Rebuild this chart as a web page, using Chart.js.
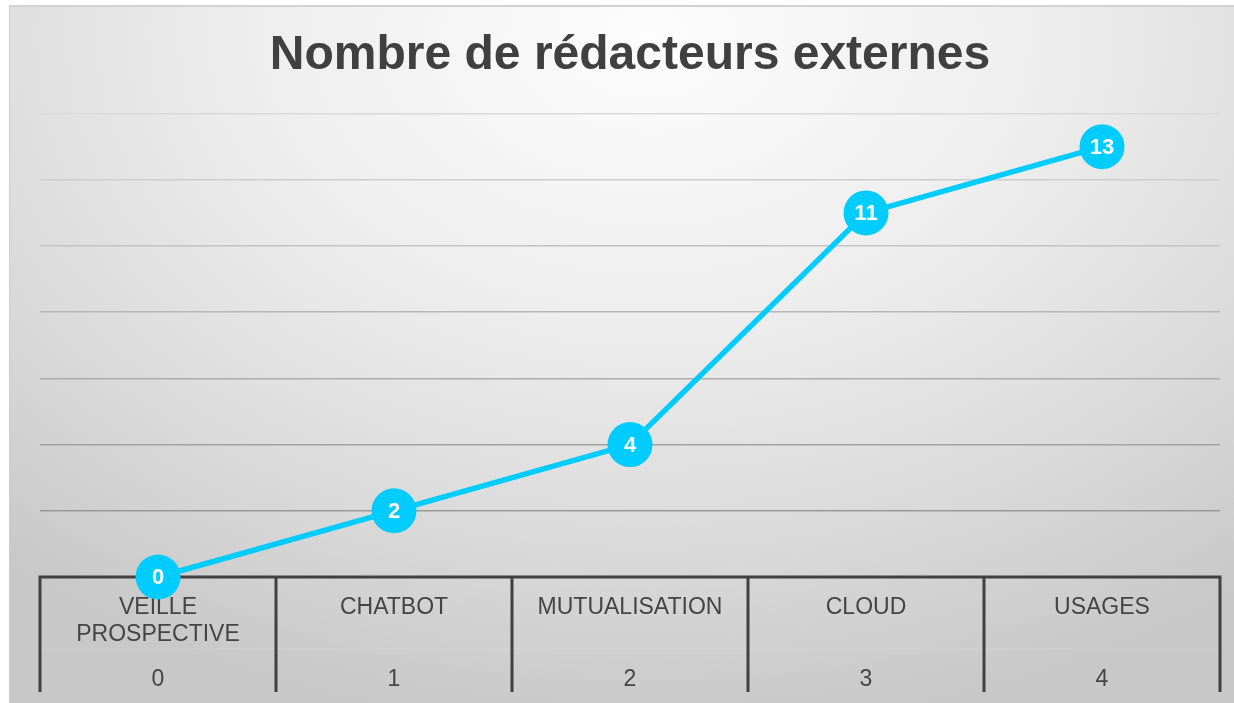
<!DOCTYPE html>
<html>
<head>
<meta charset="utf-8">
<script src="https://cdn.jsdelivr.net/npm/chart.js@4.4.0/dist/chart.umd.min.js"></script>
<style>
  html, body { margin: 0; padding: 0; background: #fff; overflow: hidden; }
  #frame {
    position: absolute; left: 9px; top: 5px; width: 1225px; height: 698px;
    border-top: 2px solid #d2d2d2; border-left: 1px solid #cdcdcd;
    box-sizing: border-box;
    background: radial-gradient(ellipse 80% 100% at 52% 4%, #fdfdfd 0%, #eeeeee 40%, #d9d9d9 75%, #c8c8c8 100%);
  }
  #wrap { position: absolute; left: 0; top: 0; width: 1234px; height: 703px; }
</style>
</head>
<body>
<div id="frame"></div>
<div id="wrap"><canvas id="c"></canvas></div>
<script>
// chart data
const categories = [["VEILLE", "PROSPECTIVE"], ["CHATBOT"], ["MUTUALISATION"], ["CLOUD"], ["USAGES"]];
const indexLabels = ["0", "1", "2", "3", "4"];
const redacteurs = [0, 2, 4, 11, 13];
const yMin = 0, yMax = 14, yStep = 2;

const FONT = "'Liberation Sans', Arial, sans-serif";

// table under the plot: category names, index row, borders
const tablePlugin = {
  id: "tableAxis",
  beforeDatasetsDraw(chart) {
    const ctx = chart.ctx;
    const x = chart.scales.x;
    const area = chart.chartArea;
    const top = area.bottom;
    const bottom = top + 115;
    ctx.save();
    // faint separation between the two rows
    ctx.strokeStyle = "rgba(255,255,255,0.2)";
    ctx.lineWidth = 1;
    ctx.beginPath();
    ctx.moveTo(x.getPixelForValue(-0.5), top + 72);
    ctx.lineTo(x.getPixelForValue(categories.length - 0.5), top + 72);
    ctx.stroke();

    ctx.strokeStyle = "#404040";
    ctx.lineWidth = 3;
    ctx.beginPath();
    ctx.moveTo(x.getPixelForValue(-0.5) - 1.5, top);
    ctx.lineTo(x.getPixelForValue(categories.length - 0.5) + 1.5, top);
    for (let i = 0; i <= categories.length; i++) {
      const px = x.getPixelForValue(i - 0.5);
      ctx.moveTo(px, top);
      ctx.lineTo(px, bottom);
    }
    ctx.stroke();

    ctx.fillStyle = "#444444";
    ctx.font = "23px " + FONT;
    ctx.textAlign = "center";
    ctx.textBaseline = "middle";
    for (let i = 0; i < categories.length; i++) {
      const px = x.getPixelForValue(i);
      categories[i].forEach((line, j) => {
        ctx.fillText(line, px, top + 31 + j * 27);
      });
      ctx.fillText(indexLabels[i], px, top + 103);
    }
    ctx.restore();
  }
};

// white value inside each point
const valueLabels = {
  id: "valueLabels",
  afterDatasetsDraw(chart) {
    const ctx = chart.ctx;
    const meta = chart.getDatasetMeta(0);
    ctx.save();
    ctx.fillStyle = "#ffffff";
    ctx.font = "bold 22px " + FONT;
    ctx.textAlign = "center";
    ctx.textBaseline = "middle";
    meta.data.forEach((pt, i) => {
      ctx.fillText(String(redacteurs[i]), pt.x, pt.y + 1);
    });
    ctx.restore();
  }
};

// grid lines get darker towards the bottom
const gridShades = ["#999999", "#999999", "#a2a2a2", "#acacac", "#b7b7b7", "#c3c3c3", "#cecece", "#d9d9d9"];

new Chart(document.getElementById("c"), {
  type: "line",
  data: {
    labels: categories,
    datasets: [{
      label: "Nombre de rédacteurs externes",
      data: redacteurs,
      borderColor: "#00CCFF",
      backgroundColor: "#00CCFF",
      borderWidth: 5.5,
      pointRadius: 22.5,
      pointHoverRadius: 22.5,
      pointBorderWidth: 0,
      tension: 0,
      clip: false
    }]
  },
  options: {
    responsive: true,
    maintainAspectRatio: false,
    animation: false,
    layout: { autoPadding: false, padding: { left: 40, right: 14, top: 0, bottom: 126 } },
    plugins: {
      legend: { display: false },
      tooltip: { enabled: false },
      title: {
        display: true,
        text: "Nombre de rédacteurs externes",
        color: "#404040",
        font: { family: FONT, size: 48, weight: "bold", lineHeight: 1.2 },
        padding: { top: 27, bottom: 29 }
      }
    },
    scales: {
      x: {
        offset: true,
        ticks: { display: false },
        grid: { display: false, drawTicks: false },
        border: { display: false }
      },
      y: {
        min: yMin,
        max: yMax,
        ticks: { display: false, stepSize: yStep },
        grid: {
          drawTicks: false,
          lineWidth: 1.5,
          color: (c) => gridShades[Math.round(c.tick.value / yStep)] || "#bbbbbb"
        },
        border: { display: false }
      }
    }
  },
  plugins: [tablePlugin, valueLabels]
});
</script>
</body>
</html>
